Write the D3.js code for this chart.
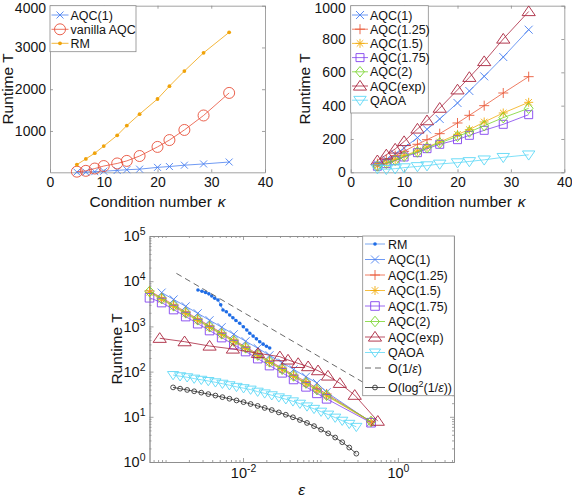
<!DOCTYPE html>
<html><head><meta charset="utf-8">
<script src="https://cdn.jsdelivr.net/npm/d3@7/dist/d3.min.js"></script>
<style>
html,body{margin:0;padding:0;background:#fff;}
svg{display:block;}
</style></head>
<body>
<svg id="chart" width="572" height="497"></svg>
<script>
// ================= DATA =================
// --- top-left panel ---
const kappa = [5, 6.67, 8.33, 10, 12.5, 14.29, 16.67, 20, 22.22, 25, 28.57, 33.33];
const tlAQC1    = [15, 16, 25, 36, 55, 72, 85, 128, 148, 180, 210, 256];
const tlVanilla = [25, 45, 100, 160, 222, 283, 400, 618, 782, 1024, 1371, 1911];
const tlRM      = [194, 331, 468, 637, 895, 1129, 1403, 1766, 2073, 2435, 2871, 3363];
const tlNames   = ["AQC(1)", "vanilla AQC", "RM"];
const tlXTicks  = [0, 10, 20, 30, 40];
const tlYTicks  = [1000, 2000, 3000, 4000];

// --- top-right panel ---
const trAQC1   = [50, 76, 108, 146, 208, 258, 320, 416, 488, 576, 692, 856];
const trAQC125 = [52, 76, 100, 126, 168, 196, 232, 296, 342, 400, 476, 574];
const trAQC15  = [40, 56, 76, 100, 128, 152, 182, 228, 256, 302, 356, 420];
const trAQC175 = [36, 52, 70, 92, 118, 142, 168, 196, 222, 252, 288, 346];
const trAQC2   = [38, 54, 72, 96, 122, 148, 176, 216, 242, 280, 328, 384];
const trAQCexp = [70, 105, 140, 185, 260, 310, 385, 495, 570, 665, 800, 965];
const trQAOA   = [22, 18, 22, 28, 35, 40, 50, 58, 65, 75, 90, 105];
const trNames  = ["AQC(1)", "AQC(1.25)", "AQC(1.5)", "AQC(1.75)", "AQC(2)", "AQC(exp)", "QAOA"];
const trXTicks = [0, 10, 20, 30, 40];
const trYTicks = [0, 200, 400, 600, 800, 1000];

// --- bottom panel (log-log) ---
const epsRM = [2.62e-3, 2.95e-3, 3.28e-3, 3.62e-3, 3.95e-3, 4.31e-3, 4.75e-3, 5.15e-3, 5.51e-3, 6.09e-3, 6.73e-3, 7.4e-3, 8.1e-3, 9.06e-3, 0.0101, 0.0112, 0.01222, 0.0135, 0.0149, 0.01644, 0.0182, 0.0201, 0.0221];
const bRM   = [6380, 6000, 5620, 5250, 4700, 4190, 3840, 3000, 2310, 2110, 1790, 1550, 1350, 1170, 980, 830, 703, 610, 530, 459, 405, 365, 332];

const epsAQC1 = [8.9e-4, 1.27e-3, 1.82e-3, 2.6e-3, 3.7e-3, 5.3e-3, 7.6e-3, 0.0108, 0.0155, 0.022, 0.032, 0.045, 0.065, 0.09, 0.12, 0.45];
const bAQC1   = [5600, 3950, 2780, 1950, 1370, 960, 670, 470, 330, 230, 158, 112, 77, 56, 35, 7.6];

const epsAQC  = [6.2e-4, 8.9e-4, 1.27e-3, 1.82e-3, 2.6e-3, 3.7e-3, 5.3e-3, 7.6e-3, 0.0108, 0.0155, 0.022, 0.032, 0.045, 0.065, 0.09, 0.12, 0.45];
const bAQC125 = [6100, 4300, 3000, 2100, 1470, 1030, 720, 500, 352, 245, 172, 120, 84, 60, 43, 32, 7.8];
const bAQC15  = [5650, 3950, 2750, 1920, 1350, 945, 660, 460, 324, 226, 159, 110, 78, 54, 39, 29, 7.6];
const bAQC175 = [4300, 3370, 2360, 1650, 1150, 810, 566, 395, 278, 194, 136, 94, 67, 46, 33, 25, 7.4];
const bAQC2   = [5900, 4100, 2850, 2000, 1400, 980, 685, 475, 335, 232, 164, 113, 80, 56, 40, 30, 7.9];

const epsExp  = [8.4e-4, 1.76e-3, 3.7e-3, 7.4e-3, 0.0156, 0.0299, 0.0381, 0.0515, 0.0693, 0.093, 0.125, 0.178, 0.277, 0.55];
const bAQCexp = [546, 459, 368, 316, 254, 214, 181, 152, 129, 105, 80, 55, 30, 8];

const epsDense = [1.25e-3, 1.54e-3, 1.90e-3, 2.34e-3, 2.89e-3, 3.56e-3, 4.40e-3, 5.42e-3, 6.68e-3, 8.24e-3, 0.01016, 0.01253, 0.01545, 0.01905, 0.0235, 0.0290, 0.0357, 0.0441, 0.0543, 0.0670, 0.0826, 0.1019, 0.1256, 0.1549, 0.1910, 0.2355, 0.2904];
const bQAOA = [84, 79, 75, 70, 66, 62, 58, 54, 50, 46, 43, 40, 36, 33, 30, 27, 24.5, 22, 19.5, 17, 15, 13, 11.2, 9.6, 8.2, 7, 6];
const bLog2 = [44.7, 41.9, 39.3, 36.7, 34.2, 31.8, 29.5, 27.2, 25.1, 23.0, 21.1, 19.2, 17.4, 15.7, 14.1, 12.5, 11.1, 9.75, 8.49, 7.31, 6.22, 5.21, 4.30, 3.48, 2.74, 2.09, 1.53];

const epsO1 = [1.38e-3, 0.45];
const bO1   = [14900, 45.8];

const bNames = ["RM", "AQC(1)", "AQC(1.25)", "AQC(1.5)", "AQC(1.75)", "AQC(2)", "AQC(exp)", "QAOA", "O(1/ε)", "O(log2(1/ε))"];
const bYTicks = [1, 10, 100, 1000, 10000, 100000];
const bXTicks = [0.01, 1];

// ================= STYLE =================
const FONT = "'Liberation Sans', Arial, Helvetica, sans-serif";
const AX = "#8a8a8a";
const TXT = "#141414";
const C = {
  blue: "#4a80f0", red: "#e8503a", orange: "#f0a30a", red2: "#ea5a3a",
  yellow: "#f2ad10", purple: "#8243ee", green: "#78d42c", darkred: "#a9253d",
  cyan: "#5ed8f6", rmblue: "#1e6ce6", black: "#222"
};

const svg = d3.select("#chart");

function markerPath(type, s) {
  switch (type) {
    case "x": return `M${-s},${-s}L${s},${s}M${-s},${s}L${s},${-s}`;
    case "+": return `M${-s},0L${s},0M0,${-s}L0,${s}`;
    case "*": { const d = s * 0.72; return `M${-s},0L${s},0M0,${-s}L0,${s}M${-d},${-d}L${d},${d}M${-d},${d}L${d},${-d}`; }
    case "s": return `M${-s},${-s}H${s}V${s}H${-s}Z`;
    case "d": return `M0,${-s * 1.2}L${s},0L0,${s * 1.2}L${-s},0Z`;
    case "^": return `M0,${-s * 0.85}L${s},${s * 0.62}L${-s},${s * 0.62}Z`;
    case "v": return `M0,${s * 0.85}L${s},${-s * 0.62}L${-s},${-s * 0.62}Z`;
  }
  return "";
}
function drawMarkers(g, pts, st) {
  if (!st.marker) return;
  if (st.marker === "o" || st.marker === ".") {
    g.selectAll(null).data(pts).join("circle")
      .attr("cx", d => d[0]).attr("cy", d => d[1]).attr("r", st.ms)
      .attr("fill", st.marker === "." ? st.color : "none")
      .attr("stroke", st.marker === "." ? "none" : st.color)
      .attr("stroke-width", st.mw || 0.9);
  } else {
    g.selectAll(null).data(pts).join("path")
      .attr("transform", d => `translate(${d[0]},${d[1]})`)
      .attr("d", markerPath(st.marker, st.ms))
      .attr("fill", "none").attr("stroke", st.color).attr("stroke-width", st.mw || 0.9);
  }
}
function drawSeries(g, x, y, xs, ys, st) {
  const pts = xs.map((v, i) => [x(v), y(ys[i])]);
  g.append("path").attr("d", d3.line()(pts)).attr("fill", "none")
    .attr("stroke", st.lcolor || st.color).attr("stroke-width", st.lw || 0.8)
    .attr("stroke-dasharray", st.dash || null);
  drawMarkers(g.append("g"), pts, st);
}
function styleAxis(sel, fs) {
  sel.attr("font-family", FONT).attr("font-size", fs);
  sel.selectAll("path.domain").attr("stroke", AX).attr("stroke-width", 0.8);
  sel.selectAll(".tick line").attr("stroke", AX).attr("stroke-width", 0.8);
  sel.selectAll(".tick text").attr("fill", TXT);
}
function linAxes(g, x, y, xTicks, yTicks, yPad) {
  const [xl, xr] = x.range(), [yb, yt] = y.range();
  const fmt = d3.format("d");
  const top = y.domain()[1];
  g.append("g").attr("transform", `translate(0,${yb})`)
    .call(d3.axisBottom(x).tickValues(xTicks).tickSize(-3).tickSizeOuter(0).tickPadding(5).tickFormat(fmt)).call(styleAxis, 14);
  g.append("g").attr("transform", `translate(0,${yt})`)
    .call(d3.axisTop(x).tickValues(xTicks).tickSize(-3).tickSizeOuter(0).tickFormat("")).call(styleAxis, 14);
  g.append("g").attr("transform", `translate(${xl},0)`)
    .call(d3.axisLeft(y).tickValues(yTicks).tickSize(-3).tickSizeOuter(0).tickPadding(yPad).tickFormat(fmt)).call(styleAxis, 14)
    .selectAll(".tick text").filter(d => d === top).attr("dy", "0.52em");
  g.append("g").attr("transform", `translate(${xr},0)`)
    .call(d3.axisRight(y).tickValues(yTicks).tickSize(-3).tickSizeOuter(0).tickFormat("")).call(styleAxis, 14);
}
function axisTitle(g, x, y, parts, rotate, fs) {
  const t = g.append("text").attr("font-family", FONT).attr("font-size", fs).attr("fill", TXT)
    .attr("text-anchor", "middle")
    .attr("transform", rotate ? `translate(${x},${y}) rotate(-90)` : `translate(${x},${y})`);
  parts.forEach(p => {
    const s = t.append("tspan").text(p.t);
    if (p.i) s.attr("font-style", "italic");
    if (p.dx) s.attr("dx", p.dx);
  });
  return t;
}
function legend(g, box, rowYs, entries, lx0, lx1, tx, fs) {
  g.append("rect").attr("x", box[0]).attr("y", box[1]).attr("width", box[2]).attr("height", box[3])
    .attr("fill", "#fff").attr("stroke", AX).attr("stroke-width", 0.8);
  entries.forEach((e, i) => {
    const yy = rowYs[i];
    g.append("path").attr("d", `M${lx0},${yy}H${lx1}`).attr("stroke", e.st.lcolor || e.st.color)
      .attr("stroke-width", e.st.lw || 0.8).attr("stroke-dasharray", e.st.dash || null).attr("fill", "none");
    drawMarkers(g.append("g"), [[(lx0 + lx1) / 2, yy]], e.st);
    const t = g.append("text").attr("x", tx).attr("y", yy).attr("dy", "0.36em")
      .attr("font-family", FONT).attr("font-size", fs).attr("fill", TXT);
    e.parts.forEach(p => {
      const s = t.append("tspan").text(p.t);
      if (p.i) s.attr("font-style", "italic");
      if (p.sup) s.attr("font-size", fs * 0.72).attr("dy", -5);
      if (p.down) s.attr("dy", 5);
    });
  });
}

// ================= TOP-LEFT =================
{
  const g = svg.append("g");
  const x = d3.scaleLinear().domain([0, 40]).range([50, 265]);
  const y = d3.scaleLinear().domain([10, 4000]).range([172.3, 5.7]);
  linAxes(g, x, y, tlXTicks, tlYTicks, 4);
  const stA = { color: C.blue, marker: "x", ms: 3.5 };
  const stV = { color: C.red, marker: "o", ms: 5.5 };
  const stR = { color: C.orange, marker: ".", ms: 1.9 };
  drawSeries(g, x, y, kappa, tlAQC1, stA);
  drawSeries(g, x, y, kappa, tlVanilla, stV);
  drawSeries(g, x, y, kappa, tlRM, stR);
  axisTitle(g, 157.5, 207, [{ t: "Condition number" }, { t: "κ", i: true, dx: 6 }], false, 15.5);
  axisTitle(g, 12.5, 89, [{ t: "Runtime T" }], true, 15.5);
  legend(g, [50, 5.7, 86, 46], [15, 29.3, 43.3],
    [{ st: stA, parts: [{ t: tlNames[0] }] }, { st: stV, parts: [{ t: tlNames[1] }] }, { st: stR, parts: [{ t: tlNames[2] }] }],
    51.5, 68.5, 70.5, 12.5);
}

// ================= TOP-RIGHT =================
{
  const g = svg.append("g");
  const x = d3.scaleLinear().domain([0, 40]).range([350.7, 564.3]);
  const y = d3.scaleLinear().domain([0, 1000]).range([172.3, 5.7]);
  linAxes(g, x, y, trXTicks, trYTicks, 5);
  const sts = [
    { color: C.blue, marker: "x", ms: 4 },
    { color: C.red2, marker: "+", ms: 5 },
    { color: C.yellow, marker: "*", ms: 4.5 },
    { color: C.purple, marker: "s", ms: 4 },
    { color: C.green, marker: "d", ms: 4.4 },
    { color: C.darkred, marker: "^", ms: 6.6 },
    { color: C.cyan, marker: "v", ms: 6.2 }
  ];
  const ser = [trAQC1, trAQC125, trAQC15, trAQC175, trAQC2, trAQCexp, trQAOA];
  ser.forEach((s, i) => drawSeries(g, x, y, kappa, s, sts[i]));
  axisTitle(g, 457.5, 207, [{ t: "Condition number" }, { t: "κ", i: true, dx: 6 }], false, 15.5);
  axisTitle(g, 309.5, 89, [{ t: "Runtime T" }], true, 15.5);
  legend(g, [350.7, 5.7, 77.6, 107.3], trNames.map((_, i) => 15 + 14.2 * i),
    trNames.map((n, i) => ({ st: sts[i], parts: [{ t: n }] })), 352, 368, 370, 12.5);
}

// ================= BOTTOM =================
{
  const g = svg.append("g");
  const x = d3.scaleLog().domain([6.2e-4, 5.3]).range([149.5, 454]);
  const y = d3.scaleLog().domain([1, 1e5]).range([462, 236]);
  const [xl, xr] = x.range(), [yb, yt] = y.range();
  const minorX = [], minorY = [];
  [1e-4, 1e-3, 1e-2, 1e-1, 1].forEach(d => { for (let k = 1; k <= 9; k++) { const v = d * k; if (v >= 6.2e-4 && v <= 5.3 && v !== 0.01 && v !== 1) minorX.push(v); } });
  [1, 10, 100, 1000, 10000].forEach(d => { for (let k = 2; k <= 9; k++) minorY.push(d * k); });
  const supLabels = (sel, fs) => sel.selectAll(".tick text").each(function (d) {
    const t = d3.select(this); const e = Math.round(Math.log10(d));
    t.text(null); t.append("tspan").text("10");
    t.append("tspan").attr("dy", -6).attr("font-size", fs * 0.72).text(e);
  });
  // x axes
  g.append("g").attr("transform", `translate(0,${yb})`)
    .call(d3.axisBottom(x).tickValues(bXTicks).tickSize(-4).tickSizeOuter(0).tickPadding(6)).call(styleAxis, 14.5).call(supLabels, 14.5);
  g.append("g").attr("transform", `translate(0,${yb})`)
    .call(d3.axisBottom(x).tickValues(minorX).tickSize(-2).tickSizeOuter(0).tickFormat("")).call(styleAxis, 14);
  g.append("g").attr("transform", `translate(0,${yt})`)
    .call(d3.axisTop(x).tickValues(bXTicks).tickSize(-4).tickSizeOuter(0).tickFormat("")).call(styleAxis, 14);
  g.append("g").attr("transform", `translate(0,${yt})`)
    .call(d3.axisTop(x).tickValues(minorX).tickSize(-2).tickSizeOuter(0).tickFormat("")).call(styleAxis, 14);
  // y axes
  g.append("g").attr("transform", `translate(${xl},0)`)
    .call(d3.axisLeft(y).tickValues(bYTicks).tickSize(-4).tickSizeOuter(0).tickPadding(4)).call(styleAxis, 14.5).call(supLabels, 14.5);
  g.append("g").attr("transform", `translate(${xl},0)`)
    .call(d3.axisLeft(y).tickValues(minorY).tickSize(-2).tickSizeOuter(0).tickFormat("")).call(styleAxis, 14);
  g.append("g").attr("transform", `translate(${xr},0)`)
    .call(d3.axisRight(y).tickValues(bYTicks).tickSize(-4).tickSizeOuter(0).tickFormat("")).call(styleAxis, 14);
  g.append("g").attr("transform", `translate(${xr},0)`)
    .call(d3.axisRight(y).tickValues(minorY).tickSize(-2).tickSizeOuter(0).tickFormat("")).call(styleAxis, 14);

  const sts = [
    { color: C.rmblue, marker: ".", ms: 1.8, lw: 0.6 },
    { color: C.blue, marker: "x", ms: 4 },
    { color: C.red2, marker: "+", ms: 5 },
    { color: C.yellow, marker: "*", ms: 4.5 },
    { color: C.purple, marker: "s", ms: 4.3 },
    { color: C.green, marker: "d", ms: 4.4 },
    { color: C.darkred, marker: "^", ms: 6.6 },
    { color: C.cyan, marker: "v", ms: 5.6 },
    { color: "#444", lw: 0.8, dash: "6,4" },
    { color: C.black, marker: "o", ms: 2.4, mw: 0.8 }
  ];
  drawSeries(g, x, y, epsRM, bRM, sts[0]);
  drawSeries(g, x, y, epsAQC1, bAQC1, sts[1]);
  drawSeries(g, x, y, epsAQC, bAQC125, sts[2]);
  drawSeries(g, x, y, epsAQC, bAQC15, sts[3]);
  drawSeries(g, x, y, epsAQC, bAQC175, sts[4]);
  drawSeries(g, x, y, epsAQC, bAQC2, sts[5]);
  drawSeries(g, x, y, epsExp, bAQCexp, sts[6]);
  drawSeries(g, x, y, epsDense, bQAOA, sts[7]);
  drawSeries(g, x, y, epsO1, bO1, sts[8]);
  drawSeries(g, x, y, epsDense, bLog2, sts[9]);

  axisTitle(g, 122, 349, [{ t: "Runtime T" }], true, 15.5);
  axisTitle(g, 301.7, 495, [{ t: "ε", i: true }], false, 15.5);

  const partsFor = n => {
    if (n === "O(1/ε)") return [{ t: "O(1/" }, { t: "ε", i: true }, { t: ")" }];
    if (n === "O(log2(1/ε))") return [{ t: "O(log" }, { t: "2", sup: true }, { t: "(1/", down: true }, { t: "ε", i: true }, { t: "))" }];
    return [{ t: n }];
  };
  const rows = bNames.map((_, i) => 244 + 15.5 * i + (i === 9 ? 4 : 0));
  legend(g, [362.7, 236, 91.6, 159.7], rows, bNames.map((n, i) => ({ st: sts[i], parts: partsFor(n) })), 365, 385, 388, 12.5);
}
</script>
</body></html>
